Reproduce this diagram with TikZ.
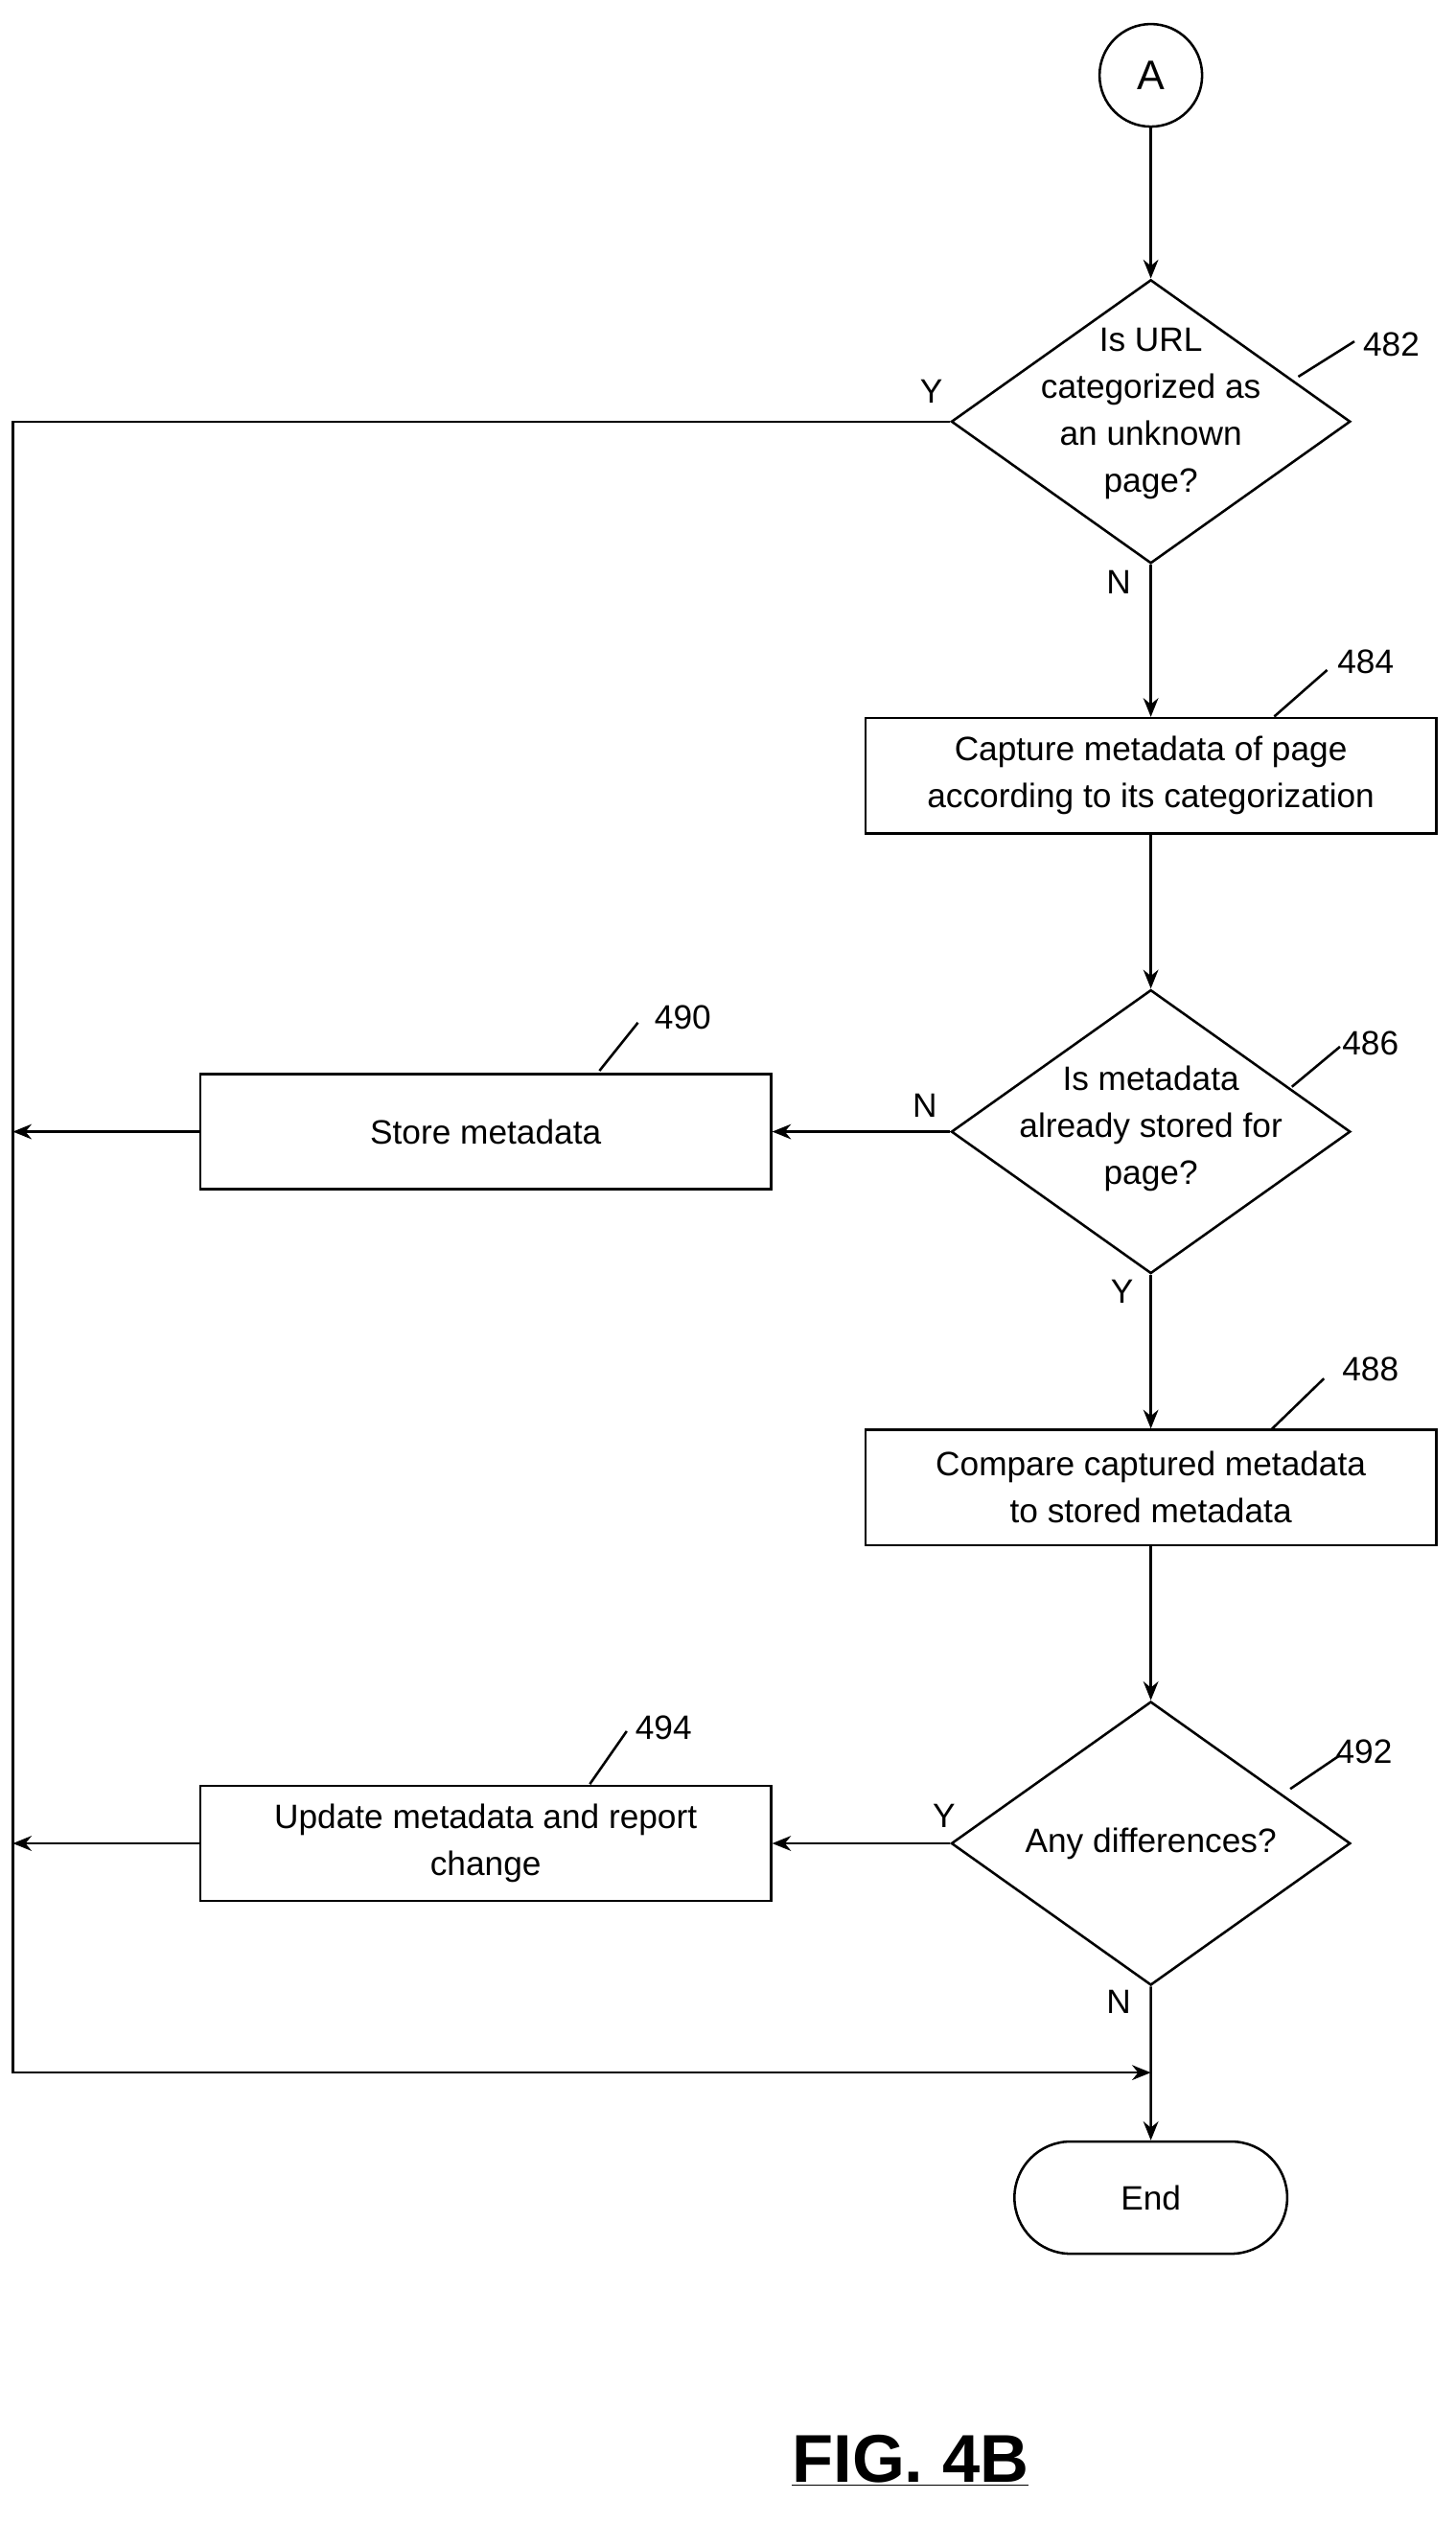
\documentclass[tikz,border=0pt]{standalone}
\usepackage{fontspec}
\setmainfont{Liberation Sans}
\usetikzlibrary{arrows.meta,shapes.geometric,shapes.misc}
\tikzset{
  box/.style={draw,line width=1.3pt,minimum width=10.68cm,minimum height=2.16cm,align=center,inner sep=0},
  dec/.style={draw,line width=1.3pt,diamond,minimum width=7.47cm,minimum height=5.31cm,inner sep=0},
  txt/.style={align=center,font=\fontsize{18}{25}\selectfont},
  arr/.style={line width=1.3pt,-{Stealth[length=10pt,width=8pt]}},
  lead/.style={line width=1.3pt}
}
\begin{document}
\begin{tikzpicture}[x=0.03cm,y=-0.03cm,every node/.style={font=\fontsize{18}{25}\selectfont}]
\useasboundingbox (0,0) rectangle (908,1574);
% start connector
\draw (718,47) node (A) [draw,line width=1.3pt,circle,minimum size=1.92cm,inner sep=0] {\fontsize{22}{26}\selectfont A};
% decisions
\draw (718,263) node (D482) [dec] {};
\node[txt] at (718,258) {Is URL\\categorized as\\an unknown\\page?};
\draw (718,706) node (D486) [dec] {};
\node[txt] at (718,704) {Is metadata\\already stored for\\page?};
\draw (718,1150) node (D492) [dec] {};
\node[txt] at (D492) {Any differences?};
% boxes
\draw (718,484) node (B484) [box,txt] {Capture metadata of page\\according to its categorization};
\draw (303,706) node (B490) [box,txt] {Store metadata};
\draw (718,928) node (B488) [box,txt] {Compare captured metadata\\to stored metadata};
\draw (303,1150) node (B494) [box,txt] {Update metadata and report\\change};
\draw (718,1371) node (End) [draw,line width=1.3pt,rounded rectangle,minimum width=5.34cm,minimum height=2.1cm] {End};
\coordinate (L1) at (8,263);
\coordinate (L2) at (8,1293);
\coordinate (J) at (718,1293);
\coordinate (S490) at (8,706);
\coordinate (S494) at (8,1150);

\draw[arr] (A) -- (D482);
\draw[arr] (D482) -- (B484);
\draw[arr] (B484) -- (D486);
\draw[arr] (D486) -- (B490);
\draw[arr] (D486) -- (B488);
\draw[arr] (B488) -- (D492);
\draw[arr] (D492) -- (B494);
\draw[arr] (B490) -- (S490);
\draw[arr] (B494) -- (S494);
\draw[arr] (D482.west) -- (L1) -- (L2) -- (J);
\draw[arr] (D492) -- (End);

% Y/N labels
\node at (581,244) {Y};
\node at (698,363) {N};
\node at (577,690) {N};
\node at (700,806) {Y};
\node at (589,1133) {Y};
\node at (698,1249) {N};

% reference numerals
\draw[lead] (810,235) -- (845,213); \node at (868,215) {482};
\draw[lead] (795,447) -- (828,418); \node at (852,413) {484};
\draw[lead] (806,678) -- (836,653); \node at (855,651) {486};
\draw[lead] (374,668) -- (398,638); \node at (426,635) {490};
\draw[lead] (793,892) -- (826,860); \node at (855,854) {488};
\draw[lead] (805,1116) -- (836,1095); \node at (851,1093) {492};
\draw[lead] (368,1113) -- (391,1080); \node at (414,1078) {494};

\node at (568,1535) {\fontsize{36}{40}\selectfont\bfseries\underline{FIG. 4B}};
\end{tikzpicture}
\end{document}
